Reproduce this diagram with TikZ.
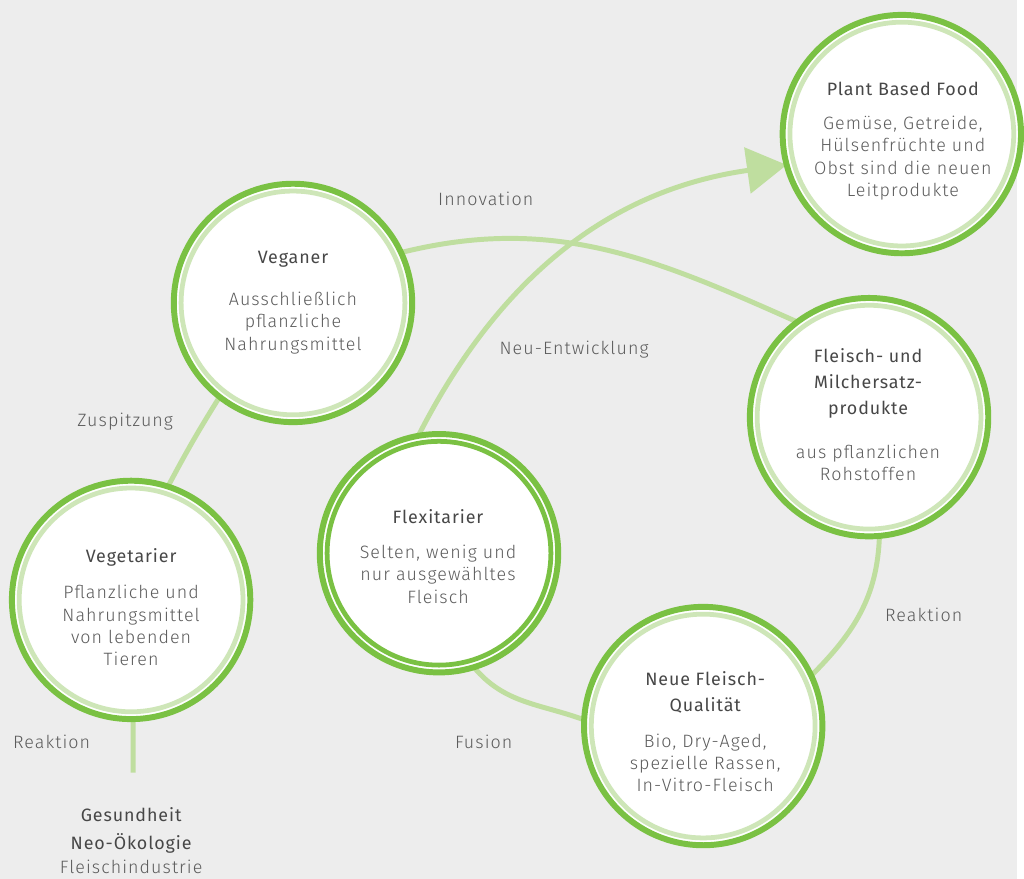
\documentclass[tikz,border=0pt]{standalone}
\usepackage{fontspec}
\setmainfont{Fira Sans}
\newfontfamily\titlefont{Fira Sans}[LetterSpace=5]
\newfontfamily\bodyfont{Fira Sans Light}[LetterSpace=6]
\usetikzlibrary{arrows.meta}
\pgfdeclarelayer{bg}
\pgfdeclarelayer{background}
\pgfsetlayers{bg,background,main}
\definecolor{dgreen}{HTML}{7AC143}
\definecolor{lgreen}{HTML}{CEE6B8}
\definecolor{cgreen}{HTML}{BFDE9F}
\definecolor{bgc}{HTML}{EDEDED}
\definecolor{ttext}{HTML}{474747}
\definecolor{btext}{HTML}{5C5C5C}
\tikzset{
  ring/.style={circle, draw=dgreen, line width=4.5pt, fill=white, minimum size=180pt,
    inner sep=0pt, outer sep=0pt,
    path picture={\draw[#1, line width=3.6pt] (path picture bounding box.center) circle (84.5pt);}},
  ring/.default=lgreen,
  conn/.style={draw=cgreen, line width=3.75pt},
  ttl/.style={text=ttext, font=\titlefont\fontsize{13.5pt}{19.9pt}\selectfont, align=center, inner sep=0pt},
  bdy/.style={text=btext, font=\bodyfont\fontsize{13.5pt}{16.9pt}\selectfont, align=center, inner sep=0pt},
}
\begin{document}
\begin{tikzpicture}[x=0.75pt,y=-0.75pt]
\begin{pgfonlayer}{bg}
\path[use as bounding box, fill=bgc] (0,0) rectangle (1024,885);
\end{pgfonlayer}
% circles
\node[ring] (plant) at (908,135) {};
\node[ring] (vegan) at (295,305) {};
\node[ring] (fleisch) at (875,420) {};
\node[ring=dgreen] (flex) at (442,557) {};
\node[ring] (veget) at (132,604) {};
\node[ring] (neue) at (708,731) {};
\coordinate (vend) at (134,778);
% texts
\node[ttl] (plantT) at (909,90) {Plant Based Food};
\node[bdy] (plantB) at (909,159) {Gemüse, Getreide,\\Hülsenfrüchte und\\Obst sind die neuen\\Leitprodukte};
\node[ttl] (veganT) at (295,261) {Veganer};
\node[bdy] (veganB) at (295,325) {Ausschließlich\\pflanzliche\\Nahrungsmittel};
\node[ttl] (fleischT) at (874,386) {Fleisch- und\\Milchersatz-\\produkte};
\node[bdy] (fleischB) at (874,466) {aus pflanzlichen\\Rohstoffen};
\node[ttl] (flexT) at (441,520) {Flexitarier};
\node[bdy] (flexB) at (441,578) {Selten, wenig und\\nur ausgewähltes\\Fleisch};
\node[ttl] (vegetT) at (132,561) {Vegetarier};
\node[bdy] (vegetB) at (132,630) {Pflanzliche und\\Nahrungsmittel\\von lebenden\\Tieren};
\node[ttl] (neueT) at (710,697) {Neue Fleisch-\\Qualität};
\node[bdy] (neueB) at (710,768) {Bio, Dry-Aged,\\spezielle Rassen,\\In-Vitro-Fleisch};
% labels
\node[bdy] (l1) at (126,424) {Zuspitzung};
\node[bdy] (l2) at (489,200) {Innovation};
\node[bdy] (l3) at (578,352) {Neu-Entwicklung};
\node[bdy] (l4) at (930,619) {Reaktion};
\node[bdy] (l5) at (487,747) {Fusion};
\node[bdy] (l6) at (52,747) {Reaktion};
\node[ttl] (b1) at (132,820) {Gesundheit};
\node[ttl] (b2) at (132,849) {Neo-Ökologie};
\node[bdy] (b3) at (132,873) {Fleischindustrie};
% connectors
\begin{pgfonlayer}{background}
\draw[conn] (veget.72) to[out=62,in=238] (vegan.232);
\draw[conn] (vegan.25) to[out=14,in=156] (fleisch.127);
\draw[conn, -{Triangle[length=30pt,width=34.5pt]}] (flex.100) to[out=63,in=188] (plant.195);
\draw[conn] (fleisch.275) to[out=-92,in=45] (neue.25);
\draw[conn] (neue.177) to[out=160,in=-50] (flex.287);
\draw[conn] (veget.-89) -- (vend);
\end{pgfonlayer}
\end{tikzpicture}
\end{document}
